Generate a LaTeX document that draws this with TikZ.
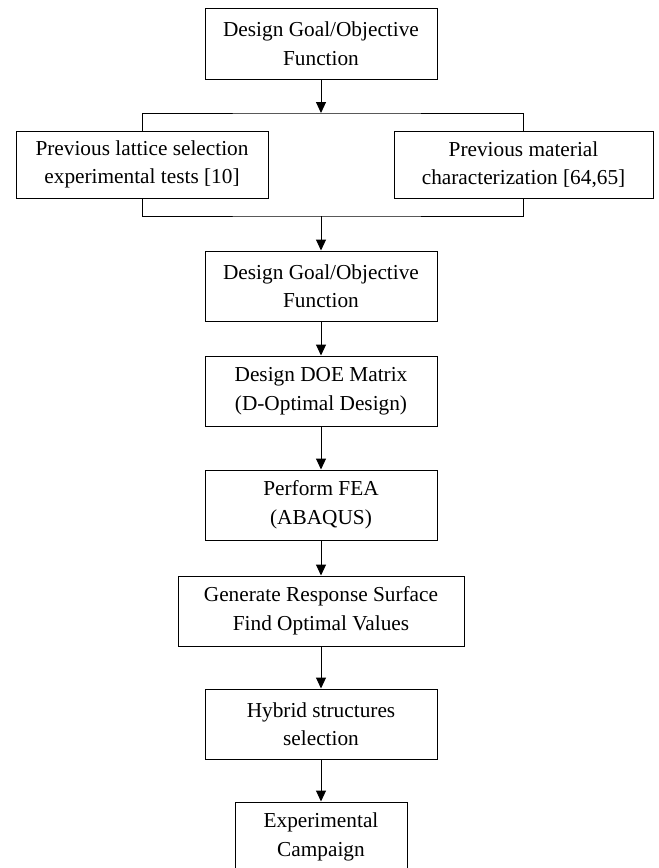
\documentclass[tikz,border=0pt]{standalone}
\usepackage{fontspec}
\setmainfont{Liberation Serif}
\usetikzlibrary{calc}
\usetikzlibrary{positioning}
\usetikzlibrary{arrows.meta}

\begin{document}
\begin{tikzpicture}[x=1pt,y=1pt]
      \tikzset{mblock/.style={draw, line width=1pt, align=center, inner sep=0pt,
        font=\fontsize{21.3}{28.5}\selectfont, minimum width=232pt, minimum height=70pt}};
      \tikzset{sblock/.style={mblock, minimum height=67pt}};
      \tikzset{flow/.style={line width=1pt, -{Triangle[length=11pt,width=10pt]}}};
      \tikzset{link/.style={line width=1pt}};
      \useasboundingbox (0,0) rectangle (659,-868);

      \node[mblock, minimum height=71pt](goalA) at (321,-43.5){Design Goal/Objective\\Function};
      \node[sblock, minimum width=252pt](prevLat) at (142,-164.5){Previous lattice selection\\experimental tests [10]};
      \node[sblock, minimum width=259pt](prevMat) at (523.5,-164.5){Previous material\\characterization [64,65]};
      \node[mblock](goalB) at (321,-286){Design Goal/Objective\\Function};
      \node[mblock, below = 34pt of goalB](doeM){Design DOE Matrix\\(D-Optimal Design)};
      \node[mblock, below = 43pt of doeM](feaP){Perform FEA\\(ABAQUS)};
      \node[mblock, minimum width=286pt, below = 35pt of feaP](rsGen){Generate Response Surface\\Find Optimal Values};
      \node[mblock, below = 42pt of rsGen](hybS){Hybrid structures\\selection};
      \node[mblock, minimum width=172pt, below = 42pt of hybS](expC){Experimental\\Campaign};

      \coordinate (split) at (321,-113);
      \coordinate (merge) at (321,-216);

      % upper split
      \draw[flow] (goalA.south)--(split);
      \draw[link] (prevLat.north) |- (split) -| (prevMat.north);

      % lower merge
      \draw[link] (prevLat.south) |- (merge) -| (prevMat.south);
      \draw[flow] (merge)--(goalB.north);

      % main chain
      \draw[flow] (goalB.south)--(doeM.north);
      \draw[flow] (doeM.south)--(feaP.north);
      \draw[flow] (feaP.south)--(rsGen.north);
      \draw[flow] (rsGen.south)--(hybS.north);
      \draw[flow] (hybS.south)--(expC.north);
\end{tikzpicture}
\end{document}
